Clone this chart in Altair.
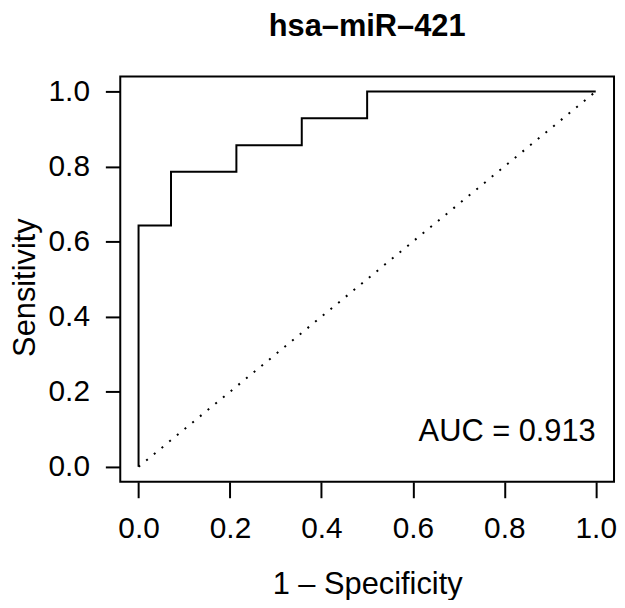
import altair as alt
import pandas as pd

# ROC curve vertices (1 - specificity, sensitivity)
fpr = [0.0, 0.0, 0.071, 0.214, 0.357, 0.5, 1.0]
tpr = [0.0, 0.643, 0.786, 0.857, 0.929, 1.0, 1.0]
diag_x = [0.0, 1.0]
diag_y = [0.0, 1.0]
auc_label = "AUC = 0.913"
auc_pos = [1.0, 0.07]
ticks = [0.0, 0.2, 0.4, 0.6, 0.8, 1.0]

FONT = "Liberation Sans"

roc_df = pd.DataFrame({"fpr": fpr, "tpr": tpr, "i": range(len(fpr))})
diag_df = pd.DataFrame({"fpr": diag_x, "tpr": diag_y, "i": range(len(diag_x))})
txt_df = pd.DataFrame({"fpr": [auc_pos[0]], "tpr": [auc_pos[1]], "label": [auc_label]})

xscale = alt.Scale(domain=[-0.04, 1.04], nice=False, zero=False)
yscale = alt.Scale(domain=[-0.04, 1.04], nice=False, zero=False)

xaxis = alt.Axis(
    title="1 – Specificity", values=ticks, format=".1f", grid=False, domain=False,
    tickSize=16, tickWidth=2, tickColor="black", labelFontSize=30, labelFont=FONT,
    labelColor="black", labelPadding=16, labelFlush=False, labelOverlap=False,
    titleFont=FONT, titleFontSize=31, titleFontWeight="normal", titleColor="black",
    titleBaseline="alphabetic", titleY=112,
)
yaxis = alt.Axis(
    title="Sensitivity", values=ticks, format=".1f", grid=False, domain=False,
    tickSize=15, tickWidth=2, tickColor="black", labelFontSize=30, labelFont=FONT,
    labelColor="black", labelPadding=16, labelAngle=0, labelBaseline="middle",
    labelFlush=False, labelOverlap=False,
    titleFont=FONT, titleFontSize=31, titleFontWeight="normal", titleColor="black",
    titleAngle=270, titleBaseline="alphabetic", titleAlign="center",
    titleX=-86, titleY=212,
)

roc = alt.Chart(roc_df).mark_line(color="black", strokeWidth=2, interpolate="step-after").encode(
    x=alt.X("fpr:Q", scale=xscale, axis=xaxis),
    y=alt.Y("tpr:Q", scale=yscale, axis=yaxis),
    order="i:O",
)

diag = alt.Chart(diag_df).mark_line(color="black", strokeWidth=2, strokeDash=[2, 8]).encode(
    x=alt.X("fpr:Q", scale=xscale),
    y=alt.Y("tpr:Q", scale=yscale),
    order="i:O",
)

txt = alt.Chart(txt_df).mark_text(
    align="right", baseline="alphabetic", fontSize=31, font=FONT, color="black"
).encode(
    x=alt.X("fpr:Q", scale=xscale),
    y=alt.Y("tpr:Q", scale=yscale),
    text="label:N",
)

chart = alt.layer(diag, roc, txt).properties(
    width=497,
    height=408,
    autosize=alt.AutoSizeParams(type="none"),
    padding={"left": 113, "top": 67, "right": 3, "bottom": 117},
    title=alt.TitleParams(
        "hsa–miR–421", font=FONT, fontSize=31, fontWeight="bold", color="black",
        anchor="middle", frame="group", baseline="alphabetic", offset=10,
    ),
).configure(background="white").configure_view(stroke="black", strokeWidth=2)

chart.save("out.html", embed_options={"renderer": "svg", "actions": False})
